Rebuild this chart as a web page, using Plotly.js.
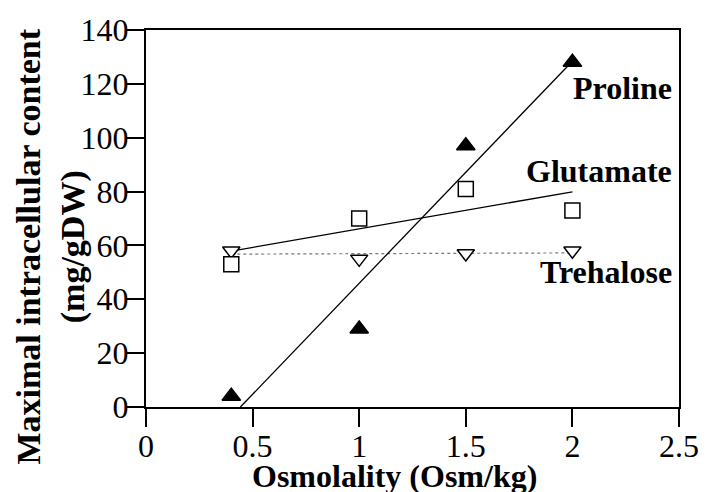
<!DOCTYPE html>
<html>
<head>
<meta charset="utf-8">
<script src="https://cdn.plot.ly/plotly-3.0.1.min.js"></script>
<style>
  html, body { margin: 0; padding: 0; background: #fff; }
  #chart { width: 706px; height: 492px; }
</style>
</head>
<body>
<div id="chart"></div>
<script>
// Osmolality of the medium (Osm/kg)
const osmolality = [0.4, 1.0, 1.5, 2.0];

// Maximal intracellular content of each solute (mg/g DW)
const proline   = [4, 29, 97, 128];
const glutamate = [53, 70, 81, 73];
const trehalose = [58, 55, 57, 58];

const xTicks = [0, 0.5, 1, 1.5, 2, 2.5];
const xTickText = ['0', '0.5', '1', '1.5', '2', '2.5'];
const yTicks = [0, 20, 40, 60, 80, 100, 120, 140];

// Least-squares straight line through a series
function linearFit(xs, ys) {
  const n = xs.length;
  const mx = xs.reduce((a, b) => a + b, 0) / n;
  const my = ys.reduce((a, b) => a + b, 0) / n;
  let sxy = 0, sxx = 0;
  for (let i = 0; i < n; i++) {
    sxy += (xs[i] - mx) * (ys[i] - my);
    sxx += (xs[i] - mx) * (xs[i] - mx);
  }
  const slope = sxy / sxx;
  return { slope: slope, intercept: my - slope * mx };
}

// Fitted segment from the first to the last x, kept above y = 0
function fitSegment(xs, ys) {
  const f = linearFit(xs, ys);
  let x0 = Math.min(...xs);
  const x1 = Math.max(...xs);
  const y0 = f.slope * x0 + f.intercept;
  if (y0 < 0) x0 = -f.intercept / f.slope;
  return { x: [x0, x1], y: [f.slope * x0 + f.intercept, f.slope * x1 + f.intercept] };
}

const serif = 'Liberation Serif, Times New Roman, serif';

const proFit = fitSegment(osmolality, proline);
const gluFit = fitSegment(osmolality, glutamate);
const treFit = fitSegment(osmolality, trehalose);

const traces = [
  { x: treFit.x, y: treFit.y, mode: 'lines', line: { color: '#7a7a7a', width: 1.2, dash: 'dot' }, hoverinfo: 'skip' },
  { x: gluFit.x, y: gluFit.y, mode: 'lines', line: { color: '#000', width: 1.3 }, hoverinfo: 'skip' },
  { x: proFit.x, y: proFit.y, mode: 'lines', line: { color: '#000', width: 1.3 }, hoverinfo: 'skip' },
  { x: osmolality, y: trehalose, name: 'Trehalose', mode: 'markers',
    marker: { symbol: 'triangle-down', size: 15, color: '#fff', line: { color: '#000', width: 1.5 } } },
  { x: osmolality, y: glutamate, name: 'Glutamate', mode: 'markers',
    marker: { symbol: 'square', size: 15, color: '#fff', line: { color: '#000', width: 1.5 } } },
  { x: osmolality, y: proline, name: 'Proline', mode: 'markers', cliponaxis: false,
    marker: { symbol: 'triangle-up', size: 16, color: '#000', line: { color: '#000', width: 1.5 } } }
];

const labelFont = { family: serif, size: 32, color: '#000' };
const tickFont = { family: serif, size: 32, color: '#000' };

const axisCommon = {
  ticks: 'outside',
  ticklen: 18,
  tickwidth: 2,
  tickcolor: '#000',
  showline: true,
  linecolor: '#000',
  linewidth: 2,
  mirror: true,
  showgrid: false,
  zeroline: false,
  tickfont: tickFont
};

const layout = {
  width: 706,
  height: 492,
  margin: { l: 146, r: 27, t: 30, b: 85 },
  paper_bgcolor: '#fff',
  plot_bgcolor: '#fff',
  showlegend: false,
  font: { family: serif, color: '#000' },
  xaxis: Object.assign({}, axisCommon, {
    range: [0, 2.5],
    tickvals: xTicks,
    ticktext: xTickText,
    ticklabelstandoff: -8
  }),
  yaxis: Object.assign({}, axisCommon, {
    range: [0, 140],
    tickvals: yTicks,
    ticklabelstandoff: -9
  }),
  annotations: [
    // axis titles
    { xref: 'paper', yref: 'paper', x: 0.4653, y: -0.183, xanchor: 'center', yanchor: 'middle',
      text: '<b>Osmolality (Osm/kg)</b>', showarrow: false,
      font: { family: serif, size: 32, color: '#000' } },
    { xref: 'paper', yref: 'paper', x: -0.179, y: 0.4244, xanchor: 'center', yanchor: 'middle',
      textangle: -90, text: '<b>Maximal intracellular content<br>(mg/gDW)</b>', showarrow: false,
      font: { family: serif, size: 34, color: '#000' } },
    // series labels
    { x: 2.477, y: 118.5, xref: 'x', yref: 'y', text: '<b>Proline</b>', showarrow: false, xanchor: 'right', yanchor: 'middle', font: labelFont },
    { x: 2.477, y: 87.5, xref: 'x', yref: 'y', text: '<b>Glutamate</b>', showarrow: false, xanchor: 'right', yanchor: 'middle', font: labelFont },
    { x: 2.477, y: 50, xref: 'x', yref: 'y', text: '<b>Trehalose</b>', showarrow: false, xanchor: 'right', yanchor: 'middle', font: labelFont }
  ]
};

Plotly.newPlot('chart', traces, layout, { displayModeBar: false, staticPlot: true });
</script>
</body>
</html>
